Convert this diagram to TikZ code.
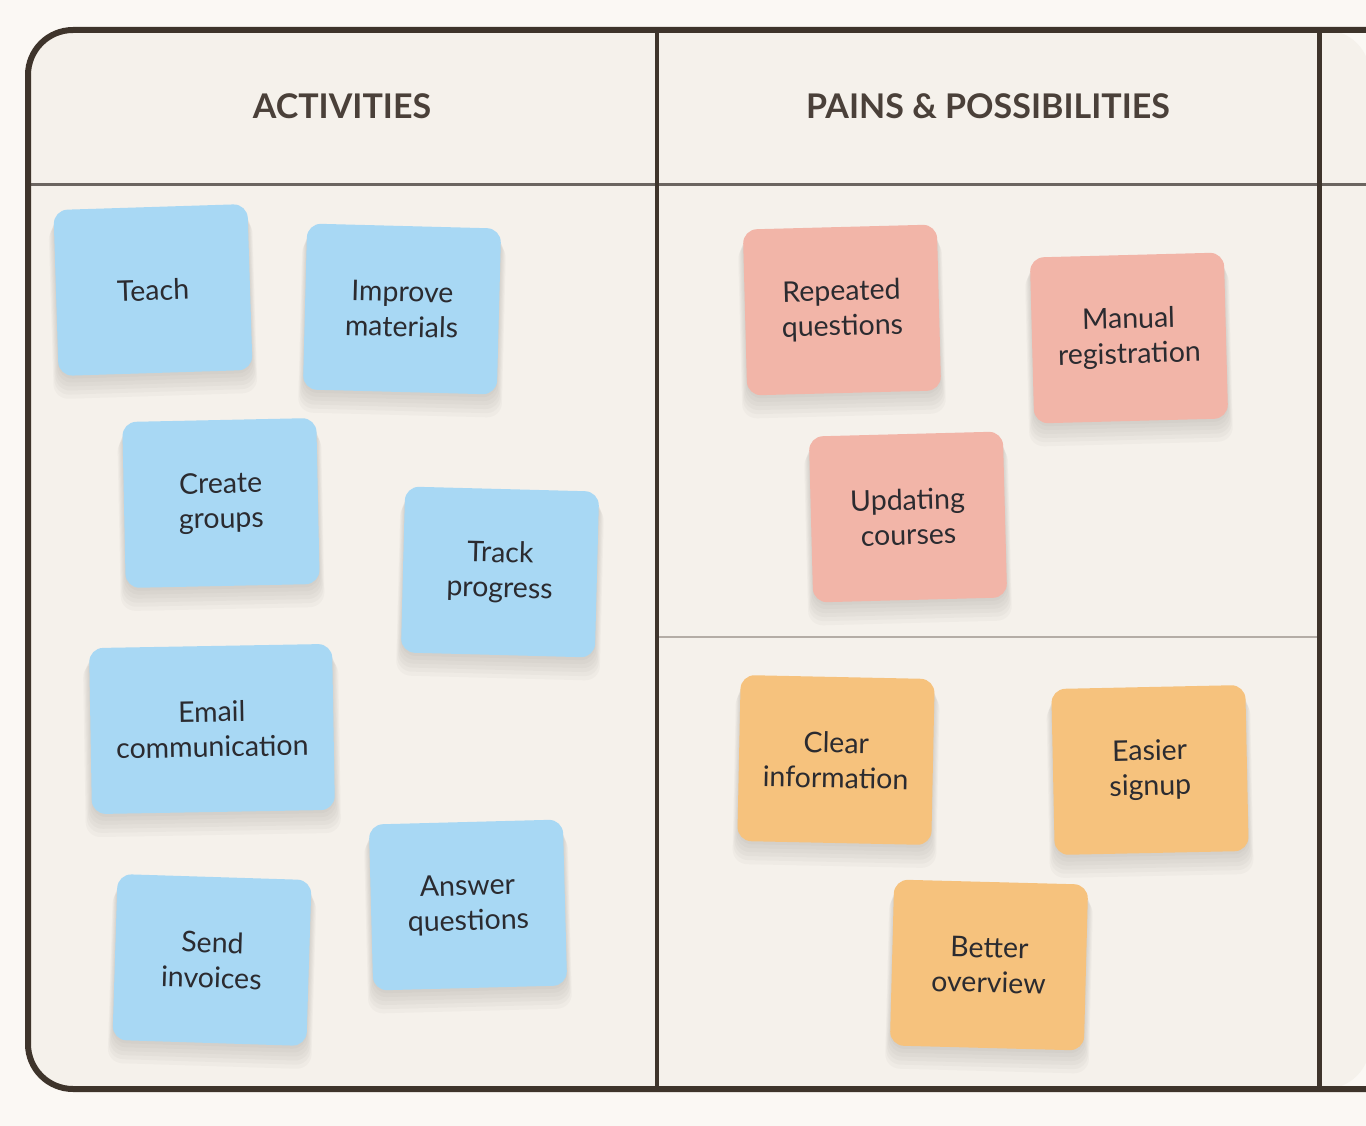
\documentclass[tikz,border=0pt]{standalone}
\usepackage{fontspec}
\setmainfont{Lato}
\usetikzlibrary{shadows}

\definecolor{pagebg}{RGB}{251,248,244}
\definecolor{boardbg}{RGB}{245,241,235}
\definecolor{boardline}{RGB}{62,52,43}
\definecolor{headline}{RGB}{107,101,96}
\definecolor{midline}{RGB}{180,173,166}
\definecolor{headtext}{RGB}{74,64,57}
\definecolor{notetext}{RGB}{43,43,48}
\definecolor{noteblue}{RGB}{168,216,244}
\definecolor{notepink}{RGB}{242,181,168}
\definecolor{noteorange}{RGB}{246,194,125}
\definecolor{shadowcol}{RGB}{105,98,90}

\tikzset{
  softlayer/.style 2 args={drop shadow={shadow xshift=0pt, shadow yshift=-#1,
    shadow scale=#2, fill=shadowcol, opacity=0.04}},
  sticky/.style={fill=#1, rounded corners=14pt, minimum width=194pt,
    minimum height=166pt, align=center, text=notetext, inner sep=0pt,
    font=\fontsize{28.5}{35}\selectfont,
    softlayer={18pt}{1.05}, softlayer={15pt}{1.04}, softlayer={12pt}{1.03},
    softlayer={9pt}{1.02}, softlayer={6pt}{1.01}, softlayer={3pt}{1.0}},
  heading/.style={text=headtext, font=\fontsize{34}{40}\selectfont\bfseries}
}

\begin{document}
\begin{tikzpicture}[x=1pt,y=-1pt]
    %% page and board
    \useasboundingbox[fill=pagebg] (0,0) rectangle (1366,1126);
    \fill[boardbg, rounded corners=45pt] (1370,30) -- (28,30) -- (28,1089) -- (1370,1089) -- cycle;
    \draw[headline, line width=3pt] (28,185) -- (1370,185);
    \draw[midline, line width=2pt] (657,637) -- (1319,637);
    \draw[boardline, line width=4pt] (657,30) -- (657,1089);
    \draw[boardline, line width=5pt] (1319,30) -- (1319,1089);
    \draw[boardline, line width=6pt, rounded corners=45pt] (1370,30) -- (28,30) -- (28,1089) -- (1370,1089);
    %% column headings
    \node[heading] (hact) at (342,106) {ACTIVITIES};
    \node[heading] (hpain) at (988,106) {PAINS \& POSSIBILITIES};
    %% activities
    \node[sticky=noteblue, rotate=1.8] (teach) at (153,290) {Teach};
    \node[sticky=noteblue, rotate=-1.5] (improve) at (402,309) {Improve\\materials};
    \node[sticky=noteblue, rotate=1.2] (groups) at (221,503) {Create\\groups};
    \node[sticky=noteblue, rotate=-1.5] (track) at (500,572) {Track\\progress};
    \node[sticky=noteblue, rotate=1, minimum width=243pt] (email) at (212,729) {Email\\communication};
    \node[sticky=noteblue, rotate=1.5] (answer) at (468,905) {Answer\\questions};
    \node[sticky=noteblue, rotate=-1.8] (invoices) at (212,960) {Send\\invoices};
    %% pains
    \node[sticky=notepink, rotate=1.5] (repeated) at (842,310) {Repeated\\questions};
    \node[sticky=notepink, rotate=1.5] (manual) at (1129,338) {Manual\\registration};
    \node[sticky=notepink, rotate=1.5] (updating) at (908,517) {Updating\\courses};
    %% possibilities
    \node[sticky=noteorange, rotate=-1.2] (clear) at (836,760) {Clear\\information};
    \node[sticky=noteorange, rotate=1.2] (easier) at (1150,770) {Easier\\signup};
    \node[sticky=noteorange, rotate=-1.5] (better) at (989,965) {Better\\overview};
\end{tikzpicture}
\end{document}
